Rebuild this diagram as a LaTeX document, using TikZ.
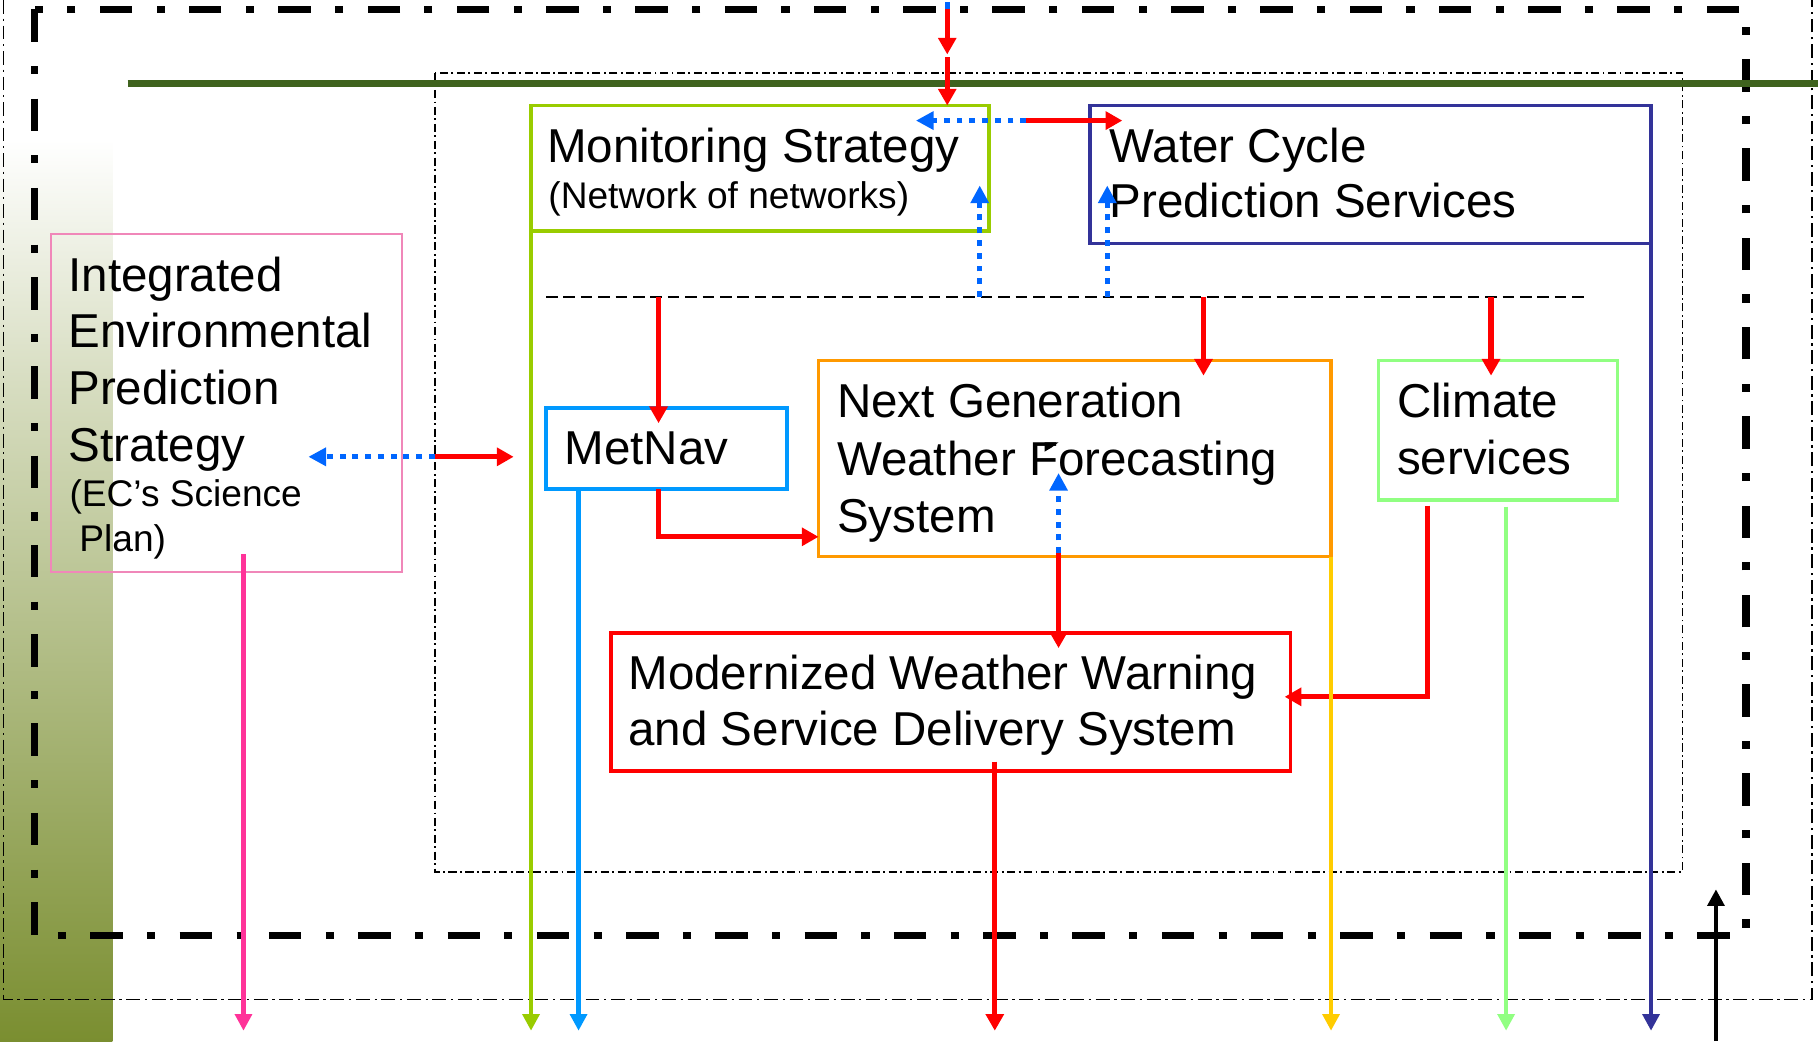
\documentclass[tikz,border=0pt]{standalone}
\usepackage{fontspec}
\setmainfont{Liberation Sans}
\usetikzlibrary{arrows.meta}
\definecolor{olivebar}{RGB}{122,142,48}
\definecolor{lineGreen}{RGB}{63,99,30}
\definecolor{monGreen}{RGB}{153,204,0}
\definecolor{navyB}{RGB}{51,51,153}
\definecolor{pinkBox}{RGB}{240,135,185}
\definecolor{pinkLine}{RGB}{255,51,153}
\definecolor{skyB}{RGB}{0,153,255}
\definecolor{orangeB}{RGB}{255,153,0}
\definecolor{goldL}{RGB}{255,204,0}
\definecolor{climG}{RGB}{145,255,130}
\definecolor{dotBlue}{RGB}{0,102,255}
\definecolor{redC}{RGB}{255,0,0}
\newcommand{\bigtxt}{\fontsize{10.25pt}{12.3pt}\selectfont}
\newcommand{\smalltxt}{\fontsize{8pt}{10pt}\selectfont}
\begin{document}
\begin{tikzpicture}[x=0.25pt,y=-0.25pt,
  box/.style={draw, line width=0.8pt, inner sep=0pt, outer sep=0pt, anchor=north west},
  lbl/.style={inner sep=0pt, outer sep=0pt, anchor=base west, font=\bigtxt},
  lbls/.style={inner sep=0pt, outer sep=0pt, anchor=base west, font=\smalltxt},
  redarr/.style={draw=redC, line width=1.1pt, -{Triangle[length=3.6pt,width=3.8pt]}},
  colarr/.style={line width=1pt, -{Triangle[length=3.6pt,width=3.6pt]}},
  dotarr/.style={draw=dotBlue, line width=1pt, dash pattern=on 1.25pt off 1.5pt, -{Triangle[length=3.8pt,width=3.8pt]}},
  thickframe/.style={line width=1.6pt, dash pattern=on 7pt off 5.25pt on 1.75pt off 5.25pt},
  thinframe/.style={line width=0.35pt, dash pattern=on 3pt off 1pt on 0.5pt off 1pt},
  innerframe/.style={line width=0.35pt, dash pattern=on 1.75pt off 0.75pt on 0.4pt off 0.75pt},
  sepline/.style={line width=0.5pt, dash pattern=on 2.5pt off 1.25pt}
]
\useasboundingbox (0,0) rectangle (1568,898);
\fill[white] (0,0) rectangle (1568,898);
% left gradient band
\shade[top color=white, bottom color=olivebar!30!white] (0,120) rectangle (97,330);
\shade[top color=olivebar!30!white, bottom color=olivebar] (0,330) rectangle (97,898.5);

% frames
\draw[thinframe] (3,0) -- (3,862) -- (1563,862) -- (1563,0);
\draw[thickframe] (30,8) rectangle (1506,807);
\draw[innerframe] (375,63) rectangle (1451,752);
\draw[lineGreen, line width=1.5pt] (110,72) -- (1568,72);

% separator dashed line
\coordinate (sepL) at (471,256);
\coordinate (sepR) at (1368,256);
\draw[sepline] (sepL) -- (sepR);

% boxes
\node[box, draw=monGreen, minimum width=395*0.25pt, minimum height=108*0.25pt] (mon) at (458,91) {};
\node[box, draw=navyB, minimum width=484*0.25pt, minimum height=119*0.25pt] (wcp) at (940,91) {};
\node[box, draw=pinkBox, line width=0.4pt, minimum width=303*0.25pt, minimum height=291*0.25pt] (iep) at (44,202) {};
\node[box, draw=skyB, minimum width=208*0.25pt, minimum height=70*0.25pt] (metnav) at (471,352) {};
\node[box, draw=orangeB, minimum width=442*0.25pt, minimum height=169*0.25pt] (ngw) at (706,311) {};
\node[box, draw=climG, minimum width=206*0.25pt, minimum height=120*0.25pt] (clim) at (1189,311) {};
\node[box, draw=redC, minimum width=586*0.25pt, minimum height=119*0.25pt] (mwws) at (527,546) {};

% labels
\node[lbl] (monT1) at (472,140) {Monitoring Strategy};
\node[lbls] (monT2) at (473,180) {(Network of networks)};
\node[lbl] (wcpT1) at (957,140) {Water Cycle};
\node[lbl] (wcpT2) at (957,188) {Prediction Services};
\node[lbl] (iepT1) at (59,251) {Integrated};
\node[lbl] (iepT2) at (59,300) {Environmental};
\node[lbl] (iepT3) at (59,349) {Prediction};
\node[lbl] (iepT4) at (59,398) {Strategy};
\node[lbls] (iepT5) at (60,437) {(EC’s Science};
\node[lbls] (iepT6) at (68.5,476) {Plan)};
\node[lbl] (metT) at (487,401) {MetNav};
\node[lbl] (ngwT1) at (722,360) {Next Generation};
\node[lbl] (ngwT2) at (722,410) {Weather Forecasting};
\node[lbl] (ngwT3) at (722,459) {System};
\node[lbl] (climT1) at (1205,360) {Climate};
\node[lbl] (climT2) at (1205,409) {services};
\node[lbl] (mwT1) at (542,595) {Modernized Weather Warning};
\node[lbl] (mwT2) at (542,643) {and Service Delivery System};

% connector coordinates
\coordinate (topS) at (817,2);
\coordinate (topM) at (817,8);
\coordinate (topA) at (817,47);
\coordinate (topB) at (817,49.5);
\coordinate (bj) at (885,104);
\coordinate (bjL) at (790,104);
\coordinate (bjR) at (968,104);
\coordinate (u1) at (845,256);
\coordinate (u1t) at (845,160);
\coordinate (u2) at (955,256);
\coordinate (u2t) at (955,160);
\coordinate (d1) at (568,256);
\coordinate (d1t) at (568,365);
\coordinate (d2) at (1038,256);
\coordinate (d2t) at (1038,324);
\coordinate (d3) at (1286,256);
\coordinate (d3t) at (1286,324);
\coordinate (lj) at (375,394);
\coordinate (ljL) at (266,394);
\coordinate (ljR) at (443,394);
\coordinate (mn1) at (568,422);
\coordinate (mn2) at (568,463);
\coordinate (nj) at (913,477);
\coordinate (njU) at (913,408);
\coordinate (njD) at (913,559);
\coordinate (cm1) at (1231,436);
\coordinate (cm2) at (1231,601);
\coordinate (cm3) at (1108,601);

% top input
\draw[dotBlue, line width=1.1pt] (topS) -- (topM);
\draw[redarr] (topM) -- (topA);
\draw[redarr] (topB) -- (topB |- mon.north);
% monitoring <-> water cycle
\draw[dotarr] (bj) -- (bjL);
\draw[redarr] (bj) -- (bjR);
% dotted feedback up
\draw[dotarr] (u1) -- (u1t);
\draw[dotarr] (u2) -- (u2t);
% red down from separator
\draw[redarr] (d1) -- (d1t);
\draw[redarr] (d2) -- (d2t);
\draw[redarr] (d3) -- (d3t);
% left link
\draw[dotarr] (lj) -- (ljL);
\draw[redarr] (lj) -- (ljR);
% MetNav -> NGW
\draw[redarr] (mn1) -- (mn2) -- (mn2 -| ngw.west);
% NGW <-> MWWS
\draw[dotarr] (nj) -- (njU);
\draw[redarr] (nj) -- (njD);
% Climate -> MWWS
\draw[redarr] (cm1) -- (cm2) -- (cm3);

% downward outputs
\coordinate (pk1) at (210,478);   \coordinate (pk2) at (210,889);
\coordinate (gr1) at (458,160);   \coordinate (gr2) at (458,889);
\coordinate (bl1) at (499,422);   \coordinate (bl2) at (499,889);
\coordinate (rd1) at (858,657);   \coordinate (rd2) at (858,889);
\coordinate (gd1) at (1148,480);  \coordinate (gd2) at (1148,889);
\coordinate (lg1) at (1299,437);  \coordinate (lg2) at (1299,889);
\coordinate (nv1) at (1424,188);  \coordinate (nv2) at (1424,889);
\coordinate (bk1) at (1480,898);  \coordinate (bk2) at (1480,767);
\draw[colarr, pinkLine] (pk1) -- (pk2);
\draw[colarr, monGreen] (gr1) -- (gr2);
\draw[colarr, skyB] (bl1) -- (bl2);
\draw[redarr] (rd1) -- (rd2);
\draw[colarr, goldL] (gd1) -- (gd2);
\draw[colarr, climG] (lg1) -- (lg2);
\draw[colarr, navyB] (nv1) -- (nv2);
\draw[colarr, black] (bk1) -- (bk2);

% small black flag on the F
\fill[black] (901,381.5) -- (913,381.5) -- (907,386) -- (901,389.5) -- cycle;
\end{tikzpicture}
\end{document}
